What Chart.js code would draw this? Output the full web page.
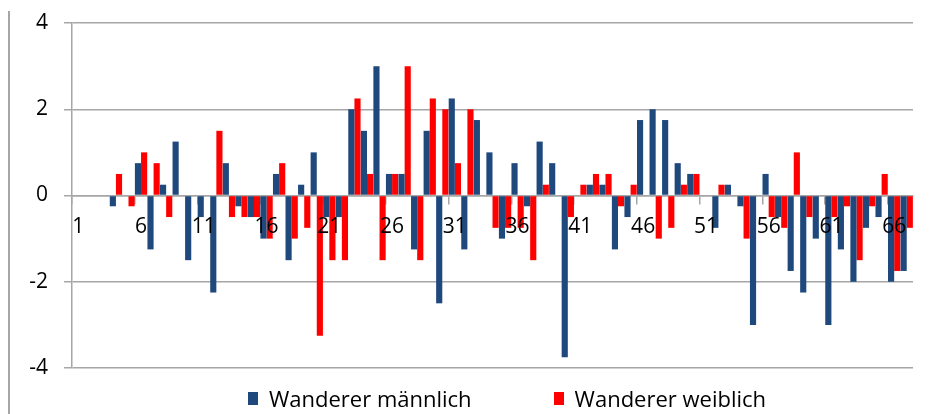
<!DOCTYPE html>
<html>
<head>
<meta charset="utf-8">
<script src="https://cdn.jsdelivr.net/npm/chart.js@4.4.1/dist/chart.umd.min.js"></script>
<style>
  html, body { margin: 0; padding: 0; background: #fff; }
  #wrap { position: relative; width: 946px; height: 414px; }
  #frame { position: absolute; left: 8px; top: 11px; width: 2px; height: 403px; background: #a6a6a6; }
  #legend { position: absolute; left: 248px; top: 383px; display: flex; gap: 82px;
            font-family: 'Open Sans', sans-serif; font-size: 22px; color: #000; }
  #legend .item { display: flex; align-items: center; }
  #legend .box { width: 10px; height: 13px; margin-right: 11px; }
</style>
</head>
<body>
<div id="wrap">
  <canvas id="migrationChart" width="946" height="414"></canvas>
  <div id="frame"></div>
  <div id="legend"></div>
</div>
<script>
// Kategorien 1..67
const categories = Array.from({ length: 67 }, (_, i) => String(i + 1));

const maleValues = [
    0, 0, 0, -0.25, 0, 0.75, -1.25, 0.25, 1.25, -1.5,
    -0.5, -2.25, 0.75, -0.25, -0.5, -1, 0.5, -1.5, 0.25, 1,
    -0.5, -0.5, 2, 1.5, 3, 0.5, 0.5, -1.25, 1.5, -2.5,
    2.25, -1.25, 1.75, 1, -1, 0.75, -0.25, 1.25, 0.75, -3.75,
    0, 0.25, 0.25, -1.25, -0.5, 1.75, 2, 1.75, 0.75, 0.5,
    0, -0.75, 0.25, -0.25, -3, 0.5, -0.5, -1.75, -2.25, -1,
    -3, -1.25, -2, -0.75, -0.5, -2, -1.75
];

const femaleValues = [
    0, 0, 0, 0.5, -0.25, 1, 0.75, -0.5, 0, 0,
    0, 1.5, -0.5, -0.5, -0.5, -1, 0.75, -1, -0.75, -3.25,
    -1.5, -1.5, 2.25, 0.5, -1.5, 0.5, 3, -1.5, 2.25, 2,
    0.75, 2, 0, -0.75, -0.75, -0.75, -1.5, 0.25, 0, -0.5,
    0.25, 0.5, 0.5, -0.25, 0.25, 0, -1, -0.75, 0.25, 0.5,
    0, 0.25, 0, -1, 0, -0.5, -0.75, 1, -0.5, 0,
    -0.5, -0.25, -1.5, -0.25, 0.5, -1.75, -0.75
];

const yTicks = [-4, -2, 0, 2, 4];

const colors = {
    male: '#1f497d',
    female: '#ff0000',
    grid: '#a6a6a6',
    text: '#000000'
};

const ctx = document.getElementById('migrationChart');
const chart = new Chart(ctx, {
    type: 'bar',
    data: {
        labels: categories,
        datasets: [
            { label: 'Wanderer männlich', data: maleValues, backgroundColor: colors.male },
            { label: 'Wanderer weiblich', data: femaleValues, backgroundColor: colors.female }
        ]
    },
    options: {
        responsive: false,
        animation: false,
        categoryPercentage: 0.98,
        barPercentage: 1.0,
        layout: { padding: { left: 0, right: 33, top: 23, bottom: 46 } },
        plugins: {
            legend: { display: false },
            tooltip: { enabled: false }
        },
        scales: {
            x: {
                position: { y: 0 },
                afterFit: s => { s.paddingTop = 0; s.paddingBottom = 0; },
                grid: {
                    drawOnChartArea: false,
                    tickLength: 8,
                    lineWidth: 1.5,
                    color: c => (c.index % 5 === 0 ? colors.grid : 'rgba(0,0,0,0)')
                },
                border: { color: colors.grid, width: 1.5 },
                ticks: {
                    z: 1,
                    autoSkip: false,
                    maxRotation: 0,
                    padding: 11,
                    color: colors.text,
                    font: { family: "'Open Sans', sans-serif", size: 21 },
                    callback: (v, i) => (i % 5 === 0 ? categories[i] : '')
                }
            },
            y: {
                min: yTicks[0],
                max: yTicks[yTicks.length - 1],
                afterBuildTicks: s => { s.ticks = yTicks.map(v => ({ value: v })); },
                afterFit: s => { s.width = 72; s.paddingTop = 0; s.paddingBottom = 0; },
                grid: { color: colors.grid, lineWidth: 1.5, tickLength: 8 },
                border: { color: colors.grid, width: 1.5 },
                ticks: {
                    padding: 16,
                    color: colors.text,
                    font: { family: "'Open Sans', sans-serif", size: 21 }
                }
            }
        }
    }
});

// Legende
const legendEl = document.getElementById('legend');
chart.data.datasets.forEach(ds => {
    const item = document.createElement('div');
    item.className = 'item';
    const box = document.createElement('span');
    box.className = 'box';
    box.style.background = ds.backgroundColor;
    const txt = document.createElement('span');
    txt.textContent = ds.label;
    item.appendChild(box);
    item.appendChild(txt);
    legendEl.appendChild(item);
});
</script>
</body>
</html>
